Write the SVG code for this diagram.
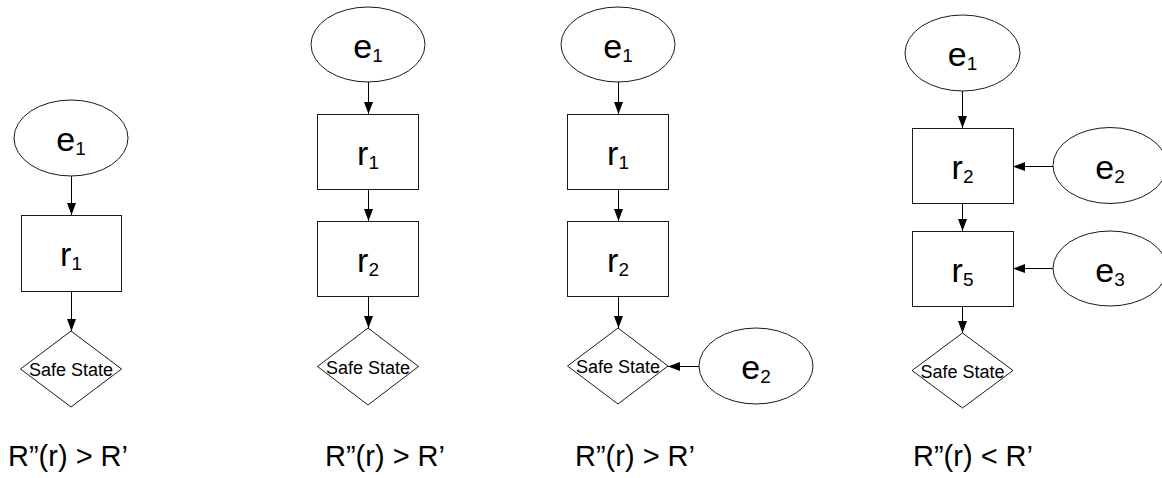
<svg xmlns="http://www.w3.org/2000/svg" width="1162" height="478" viewBox="0 0 1162 478">
  <style>
    .shape { fill: #ffffff; stroke: #1a1a1a; stroke-width: 1; }
    .edge { fill: none; stroke: #000000; stroke-width: 1; marker-end: url(#arr); }
    .lbl { font-family: "Liberation Sans", Arial, sans-serif; font-size: 34px; fill: #000000; text-anchor: middle; }
    .sub { font-size: 19px; }
    .safe { font-family: "Liberation Sans", Arial, sans-serif; font-size: 18px; fill: #000000; text-anchor: middle; }
    .cond { font-family: "Liberation Sans", Arial, sans-serif; font-size: 29px; fill: #000000; }
  </style>
  <defs>
    <marker id="arr" markerWidth="12" markerHeight="10" refX="12" refY="5" orient="auto" markerUnits="userSpaceOnUse">
      <path d="M0,0.5 L12,5 L0,9.5 z" fill="#000000"/>
    </marker>
  </defs>

  <rect width="1162" height="478" fill="#ffffff"/>

  <!-- Column 1 -->
  <g id="c1-e1">
    <ellipse class="shape" cx="71" cy="138" rx="57" ry="38"/>
    <text class="lbl" x="71" y="151">e<tspan class="sub" dy="4">1</tspan></text>
  </g>
  <g id="c1-r1">
    <rect class="shape" x="21.5" y="215.5" width="100" height="76"/>
    <text class="lbl" x="71" y="266">r<tspan class="sub" dy="4">1</tspan></text>
  </g>
  <g id="c1-safe">
    <polygon class="shape" points="71,331 121.5,369 71,407 20.5,369"/>
    <text class="safe" x="71" y="376">Safe State</text>
  </g>

  <!-- Column 2 -->
  <g id="c2-e1">
    <ellipse class="shape" cx="368" cy="44.5" rx="57" ry="37.5"/>
    <text class="lbl" x="368" y="58">e<tspan class="sub" dy="4">1</tspan></text>
  </g>
  <g id="c2-r1">
    <rect class="shape" x="317.5" y="114.5" width="101" height="75"/>
    <text class="lbl" x="368" y="165">r<tspan class="sub" dy="4">1</tspan></text>
  </g>
  <g id="c2-r2">
    <rect class="shape" x="317.5" y="221.5" width="101" height="75"/>
    <text class="lbl" x="368" y="272">r<tspan class="sub" dy="4">2</tspan></text>
  </g>
  <g id="c2-safe">
    <polygon class="shape" points="368,328 418.5,366.5 368,405 317.5,366.5"/>
    <text class="safe" x="368" y="373.5">Safe State</text>
  </g>

  <!-- Column 3 -->
  <g id="c3-e1">
    <ellipse class="shape" cx="618" cy="44.5" rx="57" ry="37.5"/>
    <text class="lbl" x="618" y="58">e<tspan class="sub" dy="4">1</tspan></text>
  </g>
  <g id="c3-r1">
    <rect class="shape" x="567.5" y="114.5" width="101" height="75"/>
    <text class="lbl" x="618" y="165">r<tspan class="sub" dy="4">1</tspan></text>
  </g>
  <g id="c3-r2">
    <rect class="shape" x="567.5" y="221.5" width="101" height="75"/>
    <text class="lbl" x="618" y="272">r<tspan class="sub" dy="4">2</tspan></text>
  </g>
  <g id="c3-safe">
    <polygon class="shape" points="618,328 668,366 618,404 567.5,366"/>
    <text class="safe" x="618" y="373">Safe State</text>
  </g>
  <g id="c3-e2">
    <ellipse class="shape" cx="756" cy="366" rx="57" ry="38"/>
    <text class="lbl" x="756" y="379">e<tspan class="sub" dy="4">2</tspan></text>
  </g>

  <!-- Column 4 -->
  <g id="c4-e1">
    <ellipse class="shape" cx="962.5" cy="53" rx="57.5" ry="38"/>
    <text class="lbl" x="962.5" y="66">e<tspan class="sub" dy="4">1</tspan></text>
  </g>
  <g id="c4-r2">
    <rect class="shape" x="912.5" y="128.5" width="101" height="75"/>
    <text class="lbl" x="962.5" y="179">r<tspan class="sub" dy="4">2</tspan></text>
  </g>
  <g id="c4-r5">
    <rect class="shape" x="912.5" y="231.5" width="101" height="75"/>
    <text class="lbl" x="962.5" y="282">r<tspan class="sub" dy="4">5</tspan></text>
  </g>
  <g id="c4-safe">
    <polygon class="shape" points="962.5,333 1013,370.5 962.5,408 912,370.5"/>
    <text class="safe" x="962.5" y="377.5">Safe State</text>
  </g>
  <g id="c4-e2">
    <ellipse class="shape" cx="1110" cy="165.5" rx="57" ry="38"/>
    <text class="lbl" x="1110" y="178.5">e<tspan class="sub" dy="4">2</tspan></text>
  </g>
  <g id="c4-e3">
    <ellipse class="shape" cx="1110" cy="268.5" rx="57" ry="37.5"/>
    <text class="lbl" x="1110" y="281.5">e<tspan class="sub" dy="4">3</tspan></text>
  </g>

  <!-- Connectors -->
  <g id="connectors">
    <line class="edge" x1="71.5" y1="176" x2="71.5" y2="215"/>
    <line class="edge" x1="71.5" y1="292" x2="71.5" y2="331"/>

    <line class="edge" x1="368.5" y1="82" x2="368.5" y2="114"/>
    <line class="edge" x1="368.5" y1="190" x2="368.5" y2="221"/>
    <line class="edge" x1="368.5" y1="297" x2="368.5" y2="328"/>

    <line class="edge" x1="618.5" y1="82" x2="618.5" y2="114"/>
    <line class="edge" x1="618.5" y1="190" x2="618.5" y2="221"/>
    <line class="edge" x1="618.5" y1="297" x2="618.5" y2="328"/>
    <line class="edge" x1="699" y1="366.5" x2="668" y2="366.5"/>

    <line class="edge" x1="962.5" y1="91" x2="962.5" y2="128"/>
    <line class="edge" x1="962.5" y1="204" x2="962.5" y2="231"/>
    <line class="edge" x1="962.5" y1="307" x2="962.5" y2="333"/>
    <line class="edge" x1="1053" y1="166.5" x2="1013" y2="166.5"/>
    <line class="edge" x1="1053" y1="268.5" x2="1013" y2="268.5"/>
  </g>

  <!-- Conditions under each case -->
  <g id="conditions">
    <text class="cond" x="8" y="466">R”(r) &gt; R’</text>
    <text class="cond" x="325" y="466">R”(r) &gt; R’</text>
    <text class="cond" x="575" y="466">R”(r) &gt; R’</text>
    <text class="cond" x="913" y="466">R”(r) &lt; R’</text>
  </g>
</svg>
